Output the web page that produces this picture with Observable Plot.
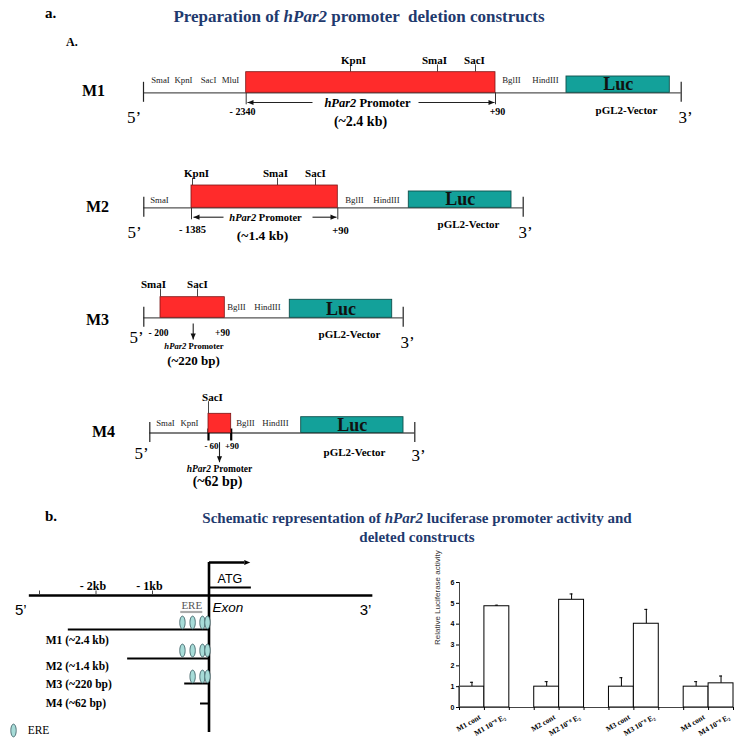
<!DOCTYPE html>
<html><head><meta charset="utf-8">
<script src="https://cdn.jsdelivr.net/npm/d3@7"></script>
<script src="https://cdn.jsdelivr.net/npm/@observablehq/plot@0.6"></script>
<style>
html,body{margin:0;padding:0;background:#fff;}
#root{position:relative;width:739px;height:743px;overflow:hidden;background:#fff;}
.abs{position:absolute;line-height:1;white-space:pre;}
svg{overflow:visible;}
</style></head><body><div id="root"></div>
<script>
const SERIF = '"Liberation Serif","Times New Roman",serif';
const SANS = '"Liberation Sans",Arial,sans-serif';
const NAVY = "#1f3a6e";
const RED = "#ff2b2b", RED_STROKE = "#7a1414";
const TEAL = "#13a19a", TEAL_STROKE = "#0f4f4b";

// ---------------- DATA ----------------
// Panel a: deletion constructs
const constructNames = ["M1", "M2", "M3", "M4"];
const promoterFrom = ["- 2340", "- 1385", "- 200", "- 60"];
const promoterTo = ["+90", "+90", "+90", "+90"];
const promoterSize = ["(~2.4 kb)", "(~1.4 kb)", "(~220 bp)", "(~62 bp)"];
const promoterName = "hPar2 Promoter";
const reporterName = "Luc";
const vectorName = "pGL2-Vector";
// restriction sites inside promoter (construct index, enzyme)
const siteConstruct = [0, 0, 0, 1, 1, 1, 2, 2, 3];
const siteEnzyme = ["KpnI", "SmaI", "SacI", "KpnI", "SmaI", "SacI", "SmaI", "SacI", "SacI"];
// multiple cloning site labels (construct index, enzyme)
const mcsConstruct = [0, 0, 0, 0, 0, 0, 1, 1, 1, 2, 2, 3, 3, 3, 3];
const mcsEnzyme = ["SmaI", "KpnI", "SacI", "MluI", "BglII", "HindIII", "SmaI", "BglII", "HindIII", "BglII", "HindIII", "SmaI", "KpnI", "BglII", "HindIII"];

// Panel b (left): promoter map, kb relative to the start site
const mapTicksKb = [-3, -2, -1];
const mapTickLabels = ["", "- 2kb", "- 1kb"];
const ereKb = [-0.47, -0.29, -0.115, -0.027];
const constructLabels = ["M1 (~2.4 kb)", "M2 (~1.4 kb)", "M3 (~220 bp)", "M4 (~62 bp)"];
const constructStartKb = [-2.49, -1.44, -0.43, -0.15];
const constructEreCount = [4, 4, 3, 0];

// Panel b (right): luciferase activity
const barLabels = ["M1 cont", "M1 10\u207B\u2078 E\u2082", "M2 cont", "M2 10\u207B\u2078 E\u2082", "M3 cont", "M3 10\u207B\u2078 E\u2082", "M4 cont", "M4 10\u207B\u2078 E\u2082"];
const barValues = [1.0, 4.86, 1.0, 5.17, 1.0, 4.02, 1.0, 1.16];
const barErrors = [0.21, 0.05, 0.24, 0.28, 0.43, 0.69, 0.24, 0.35];
const yTicks = [0, 1, 2, 3, 4, 5, 6];

// ---------------- LAYOUT (schematic geometry, px) ----------------
const L = {
  lineY: [92.3, 207.3, 317.3, 432.5],
  lineX1: [143, 143.3, 143.3, 149.3],
  lineX2: [680.7, 522.7, 402.7, 414.3],
  promX1: [245.7, 191, 160, 208],
  promX2: [495, 337.3, 224.3, 230.7],
  promTop: [71.7, 185, 296.7, 413.3],
  lucX1: [566, 408.3, 289.3, 300.7],
  lucX2: [669.3, 511, 391.7, 403],
  lucTop: [76, 191, 299.3, 416.7],
  name: [[93, 90.7], [97, 206.7], [97, 319.3], [103, 431.7]],
  vec: [[626, 110], [468, 224], [349, 334], [354, 451.7]],
  five: [[133.5, 116.7], [134, 231.7], [136, 336.7], [141, 453]],
  three: [[685, 116.7], [525, 231.7], [407, 341.7], [418, 455]],
  from: [[242, 111], [192, 229], [158, 332.7], [211, 446]],
  to: [[497, 111], [340, 230], [222, 332.7], [231.5, 446]],
  fromSize: [10, 10.5, 9.5, 9],
  prom: [[367, 102], [265, 216.7], [193.5, 346], [219, 468]],
  promSize: [12.5, 10.5, 8.6, 9.5],
  size: [[360, 121], [262, 235], [193, 360], [217, 481]],
  sizeFont: [14, 13.5, 13, 14],
  siteLabelX: [353, 434, 474, 196, 275, 315, 153, 197, 212],
  siteTickX: [350, 437, 475, 192, 277, 315, 160, 197, 208],
  siteY: [60, 173.3, 284, 396.7],
  mcsX: [160, 183, 208, 230, 511, 545, 159, 354, 386, 236, 267, 165, 189, 245, 275],
  mcsY: [80, 200, 306.7, 422.7],
  hArrow: [[0, 312, 247, 102], [0, 418, 494, 102], [1, 223, 193, 216.7], [1, 312, 336, 216.7]],
  vArrow: [[192.7, 323, 339], [219, 441.7, 461.7]]
};

const root = document.getElementById("root");
function label(html, x, y, o = {}) {
  const d = document.createElement("div");
  d.className = "abs";
  d.innerHTML = html;
  const a = o.anchor || "middle";
  Object.assign(d.style, {
    left: x + "px", top: y + "px",
    fontSize: (o.size || 12) + "px",
    fontWeight: o.weight || "bold",
    fontStyle: o.style || "normal",
    color: o.color || "#000",
    fontFamily: o.family || SERIF,
    transform: `translate(${a === "middle" ? "-50%" : a === "end" ? "-100%" : "0"},-50%)`
  });
  root.appendChild(d);
}
function place(svg, x, y) {
  const w = document.createElement("div");
  w.className = "abs";
  w.style.left = x + "px"; w.style.top = y + "px";
  w.appendChild(svg);
  root.appendChild(w);
}
function italicize(svg) {
  svg.querySelectorAll("text").forEach(t => {
    const s = t.textContent;
    if (s.startsWith("hPar2 ")) {
      t.textContent = "";
      const ns = "http://www.w3.org/2000/svg";
      const a = document.createElementNS(ns, "tspan");
      a.setAttribute("font-style", "italic");
      a.textContent = "hPar2";
      const b = document.createElementNS(ns, "tspan");
      b.textContent = s.slice(5);
      t.appendChild(a); t.appendChild(b);
    }
  });
}
// filled arrowhead symbol, tip at origin, pointing right
const headSym = {draw(ctx) { ctx.moveTo(0, 0); ctx.lineTo(-6, -2.6); ctx.lineTo(-6, 2.6); ctx.closePath(); }};
const ellipseSym = {draw(ctx) {
  const rx = 2.7, ry = 6.4, k = 0.5523;
  ctx.moveTo(rx, 0);
  ctx.bezierCurveTo(rx, ry * k, rx * k, ry, 0, ry);
  ctx.bezierCurveTo(-rx * k, ry, -rx, ry * k, -rx, 0);
  ctx.bezierCurveTo(-rx, -ry * k, -rx * k, -ry, 0, -ry);
  ctx.bezierCurveTo(rx * k, -ry, rx, -ry * k, rx, 0);
  ctx.closePath();
}};

// ---------------- Titles ----------------
label("a.", 45, 13, {size: 15, anchor: "start"});
label("Preparation of <i>hPar2</i> promoter  deletion constructs", 359, 16, {size: 17, color: NAVY});
label("A.", 66, 42, {size: 12, anchor: "start"});
label("b.", 45, 516, {size: 15, anchor: "start"});
label("Schematic representation of <i>hPar2</i> luciferase promoter activity and", 417, 518, {size: 15, color: NAVY});
label("deleted constructs", 417, 537, {size: 15, color: NAVY});

// ---------------- Panel a ----------------
const rows = constructNames.map((name, i) => ({
  name, lineY: L.lineY[i], x1: L.lineX1[i], x2: L.lineX2[i],
  px1: L.promX1[i], px2: L.promX2[i], pTop: L.promTop[i],
  lx1: L.lucX1[i], lx2: L.lucX2[i], lTop: L.lucTop[i]
}));
const endTicks = rows.flatMap(r => [{x: r.x1, y1: r.lineY - 10.5, y2: r.lineY + 9.5}, {x: r.x2, y1: r.lineY - 10.5, y2: r.lineY + 9.5}]);
const promTicks = [0, 1].flatMap(i => [{x: L.promX1[i], y1: L.lineY[i], y2: L.lineY[i] + 12}, {x: L.promX2[i], y1: L.lineY[i], y2: L.lineY[i] + 12}]);
const boldTicks = [{x: L.promX1[3], y1: L.lineY[3] - 4, y2: L.lineY[3] + 8}, {x: L.promX2[3], y1: L.lineY[3] - 4, y2: L.lineY[3] + 8}];
const sites = siteEnzyme.map((e, k) => ({e, lx: L.siteLabelX[k], tx: L.siteTickX[k], y: L.siteY[siteConstruct[k]], top: L.promTop[siteConstruct[k]]}));
const mcs = mcsEnzyme.map((e, k) => ({e, x: L.mcsX[k], y: L.mcsY[mcsConstruct[k]]}));
const texts = (arr, val, opts) => Plot.text(arr.map((p, i) => ({x: p[0], y: p[1], t: typeof val === "function" ? val(i) : val})), {x: "x", y: "y", text: "t", fontFamily: SERIF, ...opts});
const hArrows = L.hArrow.map(a => ({x1: a[1], x2: a[2], y: a[3], rot: a[2] > a[1] ? 0 : 180}));
const vArrows = L.vArrow.map(a => ({x: a[0], y1: a[1], y2: a[2]}));

const panelA = Plot.plot({
  width: 739, height: 500, margin: 0,
  x: {domain: [0, 739], range: [0, 739], axis: null},
  y: {domain: [0, 500], range: [0, 500], axis: null},
  marks: [
    Plot.ruleY(rows, {y: "lineY", x1: "x1", x2: "x2", stroke: "#555", strokeWidth: 1.3}),
    Plot.ruleX(endTicks, {x: "x", y1: "y1", y2: "y2", stroke: "#222", strokeWidth: 1.2}),
    Plot.ruleX(promTicks, {x: "x", y1: "y1", y2: "y2", stroke: "#333", strokeWidth: 1}),
    Plot.ruleX(boldTicks, {x: "x", y1: "y1", y2: "y2", stroke: "#000", strokeWidth: 2.2}),
    Plot.ruleX(sites, {x: "tx", y1: d => d.y + 4.5, y2: "top", stroke: "#333", strokeWidth: 0.9}),
    Plot.rect(rows, {x1: "px1", x2: "px2", y1: "pTop", y2: "lineY", fill: RED, stroke: RED_STROKE, strokeWidth: 0.8}),
    Plot.rect(rows, {x1: "lx1", x2: "lx2", y1: "lTop", y2: "lineY", fill: TEAL, stroke: TEAL_STROKE, strokeWidth: 0.9}),
    Plot.text(rows, {x: d => (d.lx1 + d.lx2) / 2, y: d => (d.lTop + d.lineY) / 2, text: () => reporterName, fontFamily: SERIF, fontWeight: "bold", fontSize: 18, fill: "#111"}),
    Plot.text(sites, {x: "lx", y: "y", text: "e", fontFamily: SERIF, fontWeight: "bold", fontSize: 11}),
    Plot.text(mcs, {x: "x", y: "y", text: "e", fontFamily: SERIF, fontSize: 8.8, fill: "#222"}),
    texts(L.name, i => constructNames[i], {fontWeight: "bold", fontSize: 16}),
    texts(L.vec, vectorName, {fontWeight: "bold", fontSize: 11}),
    texts(L.five, "5\u2019", {fontSize: 17}),
    texts(L.three, "3\u2019", {fontSize: 17}),
    Plot.text(L.from.map((p, i) => ({x: p[0], y: p[1], s: L.fromSize[i], t: promoterFrom[i]})), {x: "x", y: "y", text: "t", fontSize: "s", fontFamily: SERIF, fontWeight: "bold"}),
    Plot.text(L.to.map((p, i) => ({x: p[0], y: p[1], s: L.fromSize[i], t: promoterTo[i]})), {x: "x", y: "y", text: "t", fontSize: "s", fontFamily: SERIF, fontWeight: "bold"}),
    Plot.text(L.prom.map((p, i) => ({x: p[0], y: p[1], s: L.promSize[i]})), {x: "x", y: "y", text: () => promoterName, fontSize: "s", fontFamily: SERIF, fontWeight: "bold"}),
    Plot.text(L.size.map((p, i) => ({x: p[0], y: p[1], s: L.sizeFont[i], t: promoterSize[i]})), {x: "x", y: "y", text: "t", fontSize: "s", fontFamily: SERIF, fontWeight: "bold"}),
    Plot.link(hArrows, {x1: "x1", x2: "x2", y1: "y", y2: "y", stroke: "#222", strokeWidth: 1.1}),
    Plot.dot(hArrows, {x: "x2", y: "y", symbol: headSym, rotate: "rot", fill: "#111", stroke: null, r: 3}),
    Plot.link(vArrows, {x1: "x", x2: "x", y1: "y1", y2: "y2", stroke: "#222", strokeWidth: 1.1}),
    Plot.dot(vArrows, {x: "x", y: "y2", symbol: headSym, rotate: 90, fill: "#111", stroke: null, r: 3})
  ]
});
italicize(panelA);
place(panelA, 0, 0);

// ---------------- Panel b left: promoter map ----------------
const mapRows = constructLabels.map((lab, i) => ({lab, start: constructStartKb[i], lineY: [629, 658, 683, 703][i], ereY: [622, 650, 676, 0][i], labY: [640, 666, 684, 703][i], n: constructEreCount[i]}));
const eres = mapRows.flatMap(r => ereKb.slice(ereKb.length - r.n).map(k => ({x: k, y: r.ereY})));
const panelBL = Plot.plot({
  width: 390, height: 203, margin: 0,
  x: {domain: [-3, 0], range: [39, 208.5], axis: null},
  y: {domain: [540, 743], range: [0, 203], axis: null},
  marks: [
    Plot.ruleY([595], {x1: -3.18, x2: 2.9, stroke: "#000", strokeWidth: 2.6}),
    Plot.ruleX(mapTicksKb, {y1: 590.5, y2: 595, stroke: "#444", strokeWidth: 1}),
    Plot.text(mapTicksKb.map((k, i) => ({k, t: mapTickLabels[i]})), {x: "k", y: 586, text: "t", dx: -3, fontFamily: SERIF, fontWeight: "bold", fontSize: 12}),
    Plot.ruleX([0], {y1: 562, y2: 732, stroke: "#000", strokeWidth: 2.6}),
    Plot.link([0], {x1: 0, x2: 0.62, y1: 562, y2: 562, stroke: "#000", strokeWidth: 2.6}),
    Plot.dot([0.73], {x: d => d, y: 562, symbol: headSym, rotate: 0, r: 3, fill: "#000", stroke: null}),
    Plot.text(["ATG"], {x: 0.37, y: 578, text: d => d, fontFamily: SANS, fontSize: 12.5}),
    Plot.ruleY([587], {x1: 0, x2: 0.75, stroke: "#000", strokeWidth: 2}),
    Plot.text(["5\u2019"], {x: -3.33, y: 610, text: d => d, fontFamily: SANS, fontSize: 15}),
    Plot.text(["3\u2019"], {x: 2.77, y: 610, text: d => d, fontFamily: SANS, fontSize: 15}),
    Plot.ruleY([611.5], {x1: -0.5, x2: -0.11, stroke: "#aaa", strokeWidth: 2.2}),
    Plot.text(["ERE"], {x: -0.305, y: 605, text: d => d, fontFamily: SERIF, fontSize: 11, fill: "#555"}),
    Plot.text(["Exon"], {x: 0.06, y: 607, text: d => d, fontFamily: SANS, fontStyle: "italic", fontSize: 13.5, textAnchor: "start"}),
    Plot.ruleY(mapRows, {y: "lineY", x1: "start", x2: 0, stroke: "#000", strokeWidth: 2}),
    Plot.dot(eres, {x: "x", y: "y", symbol: ellipseSym, r: 3, fill: "#a7dcd8", stroke: "#35565c", strokeWidth: 0.8}),
    Plot.text(mapRows, {x: -2.89, y: "labY", text: "lab", textAnchor: "start", fontFamily: SERIF, fontWeight: "bold", fontSize: 11.5}),
    Plot.dot([0], {x: -3.46, y: 730, symbol: ellipseSym, r: 3, fill: "#a7dcd8", stroke: "#35565c", strokeWidth: 0.8}),
    Plot.text(["ERE"], {x: -3.21, y: 730, text: d => d, textAnchor: "start", fontFamily: SERIF, fontSize: 11.5})
  ]
});
place(panelBL, 0, 540);

// ---------------- Panel b right: bar chart ----------------
const bars = barLabels.map((label, i) => ({label, value: barValues[i], err: barErrors[i], s: Math.floor(i / 2) * 3 + (i % 2)}));
const chart = Plot.plot({
  width: 339, height: 173,
  marginLeft: 59, marginRight: 6, marginTop: 12, marginBottom: 36,
  x: {type: "linear", domain: [0, 11], axis: null},
  y: {type: "linear", domain: [0, 6], axis: null},
  marks: [
    Plot.ruleX(bars, {x: d => d.s + 0.5, y1: "value", y2: d => d.value + d.err, stroke: "#000", strokeWidth: 1}),
    Plot.ruleY(bars, {y: d => d.value + d.err, x1: d => d.s + 0.44, x2: d => d.s + 0.56, stroke: "#000", strokeWidth: 1}),
    Plot.rect(bars, {x1: "s", x2: d => d.s + 1, y1: () => 0, y2: "value", fill: "white", stroke: "#000", strokeWidth: 1}),
    Plot.ruleX([0], {y1: 0, y2: 6, stroke: "#444", strokeWidth: 1}),
    Plot.ruleY([0], {x1: 0, x2: 11, stroke: "#444", strokeWidth: 1}),
    Plot.axisY({ticks: yTicks, tickSize: 3, tickPadding: 2, fontSize: 7, fontWeight: "bold", fontFamily: SANS, tickFormat: d => String(d), label: null}),
    Plot.axisX({ticks: d3.range(12), tickSize: 3, tickFormat: () => "", label: null}),
    Plot.text(bars, {x: d => d.s + 0.5, y: () => 0, text: "label", rotate: -30, textAnchor: "end", dx: 8, dy: 9, fontSize: 7.5, fontWeight: "bold", fontFamily: SERIF}),
    Plot.text(["Relative Luciferase activity"], {frameAnchor: "left", dx: -22, rotate: -90, text: d => d, fontSize: 8, fontFamily: SANS, fill: "#333"})
  ]
});
place(chart, 400, 570);
</script></body></html>
